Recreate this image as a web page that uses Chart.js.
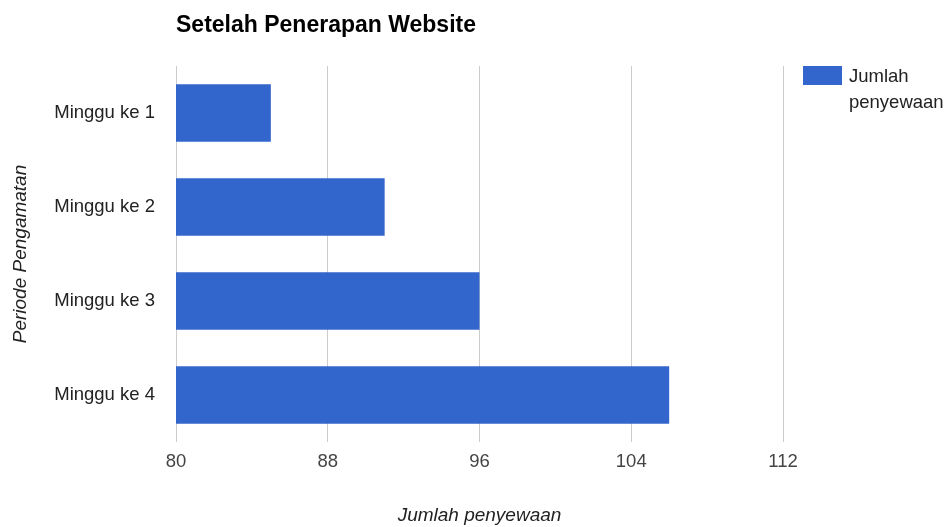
<!DOCTYPE html>
<html>
<head>
<meta charset="utf-8">
<script src="https://cdn.jsdelivr.net/npm/chart.js@4.4.1/dist/chart.umd.min.js"></script>
<style>
    html, body { margin: 0; padding: 0; background: #fff; }
    #wrap { width: 947px; height: 527px; }
</style>
</head>
<body>
<div id="wrap"><canvas id="barChart" width="947" height="527"></canvas></div>
<script>
const categories = ['Minggu ke 1', 'Minggu ke 2', 'Minggu ke 3', 'Minggu ke 4'];
const rentals = [85, 91, 96, 106];
const seriesLabel = ['Jumlah', 'penyewaan'];
const chartTitle = 'Setelah Penerapan Website';
const xTitle = 'Jumlah penyewaan';
const yTitle = 'Periode Pengamatan';

const FONT = '"Liberation Sans", Arial, sans-serif';
const BAR_COLOR = '#3366cc';

// title + wrapped legend drawn by hand, like google charts does
const decorations = {
    id: 'decorations',
    afterDraw(chart) {
        const ctx = chart.ctx;
        const area = chart.chartArea;
        ctx.save();
        ctx.fillStyle = '#000';
        ctx.font = 'bold 23px ' + FONT;
        ctx.textBaseline = 'alphabetic';
        ctx.textAlign = 'left';
        ctx.fillText(chartTitle, area.left, 32);

        const lx = area.right + 20;
        ctx.fillStyle = BAR_COLOR;
        ctx.fillRect(lx, area.top, 39, 19);
        ctx.fillStyle = '#222';
        ctx.font = '18.5px ' + FONT;
        ctx.textBaseline = 'middle';
        seriesLabel.forEach((line, i) => {
            ctx.fillText(line, lx + 46, area.top + 11 + i * 26);
        });
        ctx.restore();
    }
};

new Chart(document.getElementById('barChart'), {
    type: 'bar',
    data: {
        labels: categories,
        datasets: [{
            label: seriesLabel.join(' '),
            data: rentals,
            backgroundColor: BAR_COLOR,
            barPercentage: 0.61,
            categoryPercentage: 1
        }]
    },
    options: {
        indexAxis: 'y',
        responsive: false,
        animation: false,
        layout: { padding: { top: 66, right: 164, left: 0, bottom: 0 } },
        plugins: {
            legend: { display: false },
            tooltip: { enabled: false }
        },
        scales: {
            x: {
                min: 80,
                max: 112,
                ticks: { stepSize: 8, color: '#444', font: { family: FONT, size: 18.5 }, padding: 9 },
                grid: { color: '#cccccc', drawTicks: false },
                border: { display: false },
                title: {
                    display: true, text: xTitle, color: '#222',
                    font: { family: FONT, size: 19, style: 'italic' },
                    padding: { top: 0, bottom: 0 }
                },
                afterFit(scale) { scale.height = 85; }
            },
            y: {
                ticks: { color: '#222', font: { family: FONT, size: 18.5 }, padding: 21 },
                grid: { display: false, drawTicks: false },
                border: { display: false },
                title: {
                    display: true, text: yTitle, color: '#222',
                    font: { family: FONT, size: 19, style: 'italic' },
                    padding: { top: 9, bottom: 0 }
                },
                afterFit(scale) { scale.width = 176; }
            }
        }
    },
    plugins: [decorations]
});
</script>
</body>
</html>
